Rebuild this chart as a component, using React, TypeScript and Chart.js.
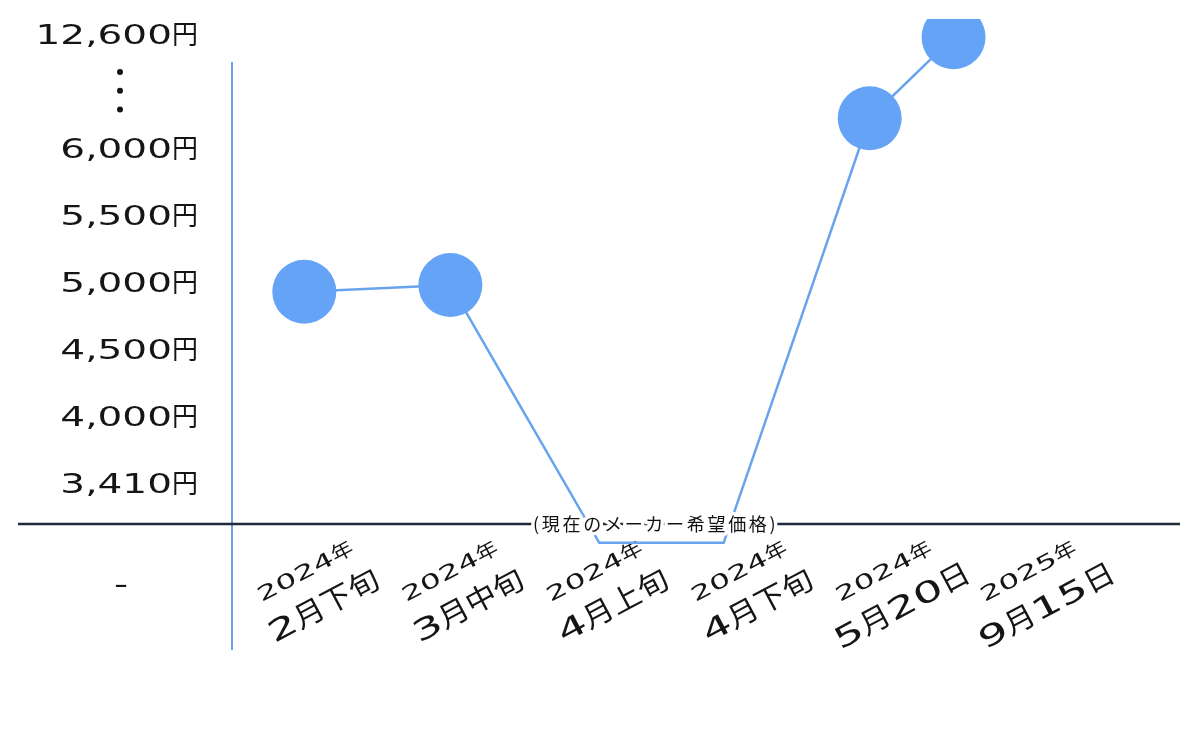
import React, { useEffect, useRef } from "react";
import { Chart, registerables } from "chart.js";

Chart.register(...registerables);

// ---- data ----
const xLabelYears = ["2024年", "2024年", "2024年", "2024年", "2024年", "2025年"];
const xLabelDates = ["2月下旬", "3月中旬", "4月上旬", "4月下旬", "5月20日", "9月15日"];
const pointSlots = [-0.14, 0.87, 1.9, 2.76, 3.77, 4.35];
// price in yen; null = no price listed
const prices: (number | null)[] = [4950, 5000, null, null, 7900, 12600];

// y axis rows (broken axis): label, yen value, row index
const yTickLabels = ["12,600円", "6,000円", "5,500円", "5,000円", "4,500円", "4,000円", "3,410円", "-"];
const yTickYen: (number | null)[] = [12600, 6000, 5500, 5000, 4500, 4000, 3410, null];
const yTickRows = [5.7, 4, 3, 2, 1, 0, -1, -2.5];
const noPriceRow = -1.85;
const baselineRow = -1.57;
const msrpNote = "(現在のメーカー希望価格)";

function toRow(yen: number | null): number {
  if (yen == null) return noPriceRow;
  const pts: [number, number][] = [];
  yTickYen.forEach((v, i) => {
    if (v != null) pts.push([v, yTickRows[i]]);
  });
  pts.sort((a, b) => a[0] - b[0]);
  if (yen <= pts[0][0]) return pts[0][1];
  for (let i = 1; i < pts.length; i++) {
    if (yen <= pts[i][0]) {
      const [y0, r0] = pts[i - 1];
      const [y1, r1] = pts[i];
      return r0 + ((yen - y0) / (y1 - y0)) * (r1 - r0);
    }
  }
  const [ya, ra] = pts[pts.length - 2];
  const [yb, rb] = pts[pts.length - 1];
  return rb + ((yen - yb) / (yb - ya)) * (rb - ra);
}

const FONT = '"DejaVu Sans", "Noto Sans CJK JP", sans-serif';

function drawWide(
  ctx: CanvasRenderingContext2D,
  text: string,
  x: number,
  y: number,
  size: number,
  align: "left" | "right" | "center",
  sa = 1.5,
  sc = 0.92
) {
  ctx.font = `${size}px ${FONT}`;
  const runs: { t: string; a: boolean }[] = [];
  for (const ch of text) {
    const a = ch.charCodeAt(0) < 128;
    if (runs.length && runs[runs.length - 1].a === a) runs[runs.length - 1].t += ch;
    else runs.push({ t: ch, a });
  }
  const widths = runs.map((r) => ctx.measureText(r.t).width * (r.a ? sa : sc));
  const total = widths.reduce((s, w) => s + w, 0);
  let cx = align === "left" ? x : align === "right" ? x - total : x - total / 2;
  ctx.textAlign = "left";
  ctx.textBaseline = "middle";
  runs.forEach((r, i) => {
    ctx.save();
    ctx.translate(cx, y);
    ctx.scale(r.a ? sa : sc, 1);
    ctx.fillText(r.t, 0, 0);
    ctx.restore();
    cx += widths[i];
  });
}

const decorPlugin = {
  id: "decor",
  beforeDatasetsDraw(chart: any) {
    const { ctx, chartArea, scales } = chart;
    const xs = scales.x;
    const ys = scales.y;
    ctx.save();
    // y axis line
    ctx.strokeStyle = "#6c9fe9";
    ctx.lineWidth = 2;
    ctx.beginPath();
    ctx.moveTo(chartArea.left, chartArea.top);
    ctx.lineTo(chartArea.left, chartArea.bottom);
    ctx.stroke();
    // baseline
    const by = ys.getPixelForValue(baselineRow);
    ctx.strokeStyle = "#1f2b3a";
    ctx.lineWidth = 2.5;
    ctx.beginPath();
    ctx.moveTo(18, by);
    ctx.lineTo(chartArea.right, by);
    ctx.stroke();
    // y tick labels
    ctx.fillStyle = "#151515";
    yTickLabels.forEach((lab, i) => {
      const py = ys.getPixelForValue(yTickRows[i]);
      if (yTickYen[i] == null) drawWide(ctx, lab, 121, py, 26, "center");
      else drawWide(ctx, lab, 198, py, 26, "right", 1.5, 1.0);
    });
    // break dots
    const mid = 4.9;
    [-0.28, 0, 0.28].forEach((d) => {
      ctx.beginPath();
      ctx.arc(120, ys.getPixelForValue(mid + d), 3, 0, Math.PI * 2);
      ctx.fill();
    });
    // x labels
    const ang = (-28 * Math.PI) / 180;
    xLabelDates.forEach((d, i) => {
      const cx = xs.getPixelForValue(i);
      const cy = by + 84;
      ctx.save();
      ctx.translate(cx, cy);
      ctx.rotate(ang);
      drawWide(ctx, d, 0, 0, 29, "center", 1.6, 1.06);
      drawWide(ctx, xLabelYears[i], 0, -40, 20, "center", 1.65, 1.1);
      ctx.restore();
    });
    ctx.restore();
  },
  afterDatasetsDraw(chart: any) {
    const { ctx, scales } = chart;
    const by = scales.y.getPixelForValue(baselineRow);
    const cx = scales.x.getPixelForValue(2.29);
    ctx.save();
    ctx.font = `18px "Noto Sans CJK JP", sans-serif`;
    (ctx as any).letterSpacing = "2.7px";
    ctx.textAlign = "center";
    ctx.textBaseline = "middle";
    ctx.strokeStyle = "#ffffff";
    ctx.lineWidth = 7;
    ctx.lineJoin = "round";
    ctx.strokeText(msrpNote, cx, by);
    ctx.fillStyle = "#111111";
    ctx.fillText(msrpNote, cx, by);
    ctx.restore();
  },
};

export default function App() {
  const ref = useRef<HTMLCanvasElement | null>(null);
  useEffect(() => {
    if (!ref.current) return;
    const chart = new Chart(ref.current, {
      type: "line",
      data: {
        datasets: [
          {
            data: prices.map((p, i) => ({ x: pointSlots[i], y: toRow(p) })),
            borderColor: "#68a4ee",
            borderWidth: 2.5,
            pointRadius: prices.map((p) => (p == null ? 0 : 32)),
            pointHoverRadius: prices.map((p) => (p == null ? 0 : 32)),
            pointBackgroundColor: "#65a3f6",
            pointBorderColor: "#65a3f6",
            pointBorderWidth: 0,
            tension: 0,
            clip: { left: false, top: 43, right: false, bottom: false } as any,
          },
        ],
      },
      options: {
        responsive: false,
        animation: false,
        events: [],
        layout: { autoPadding: false, padding: { left: 232, top: 62, right: 20, bottom: 85 } },
        plugins: { legend: { display: false }, tooltip: { enabled: false } },
        scales: {
          x: { type: "linear", min: -0.64, max: 5.916, display: false },
          y: { type: "linear", min: -3.45, max: 5.33, display: false },
        },
      },
      plugins: [decorPlugin],
    });
    return () => chart.destroy();
  }, []);
  return (
    <div style={{ position: "fixed", left: 0, top: 0, width: 1200, height: 735, background: "#fff" }}>
      <canvas ref={ref} width={1200} height={735} style={{ display: "block" }} />
    </div>
  );
}
